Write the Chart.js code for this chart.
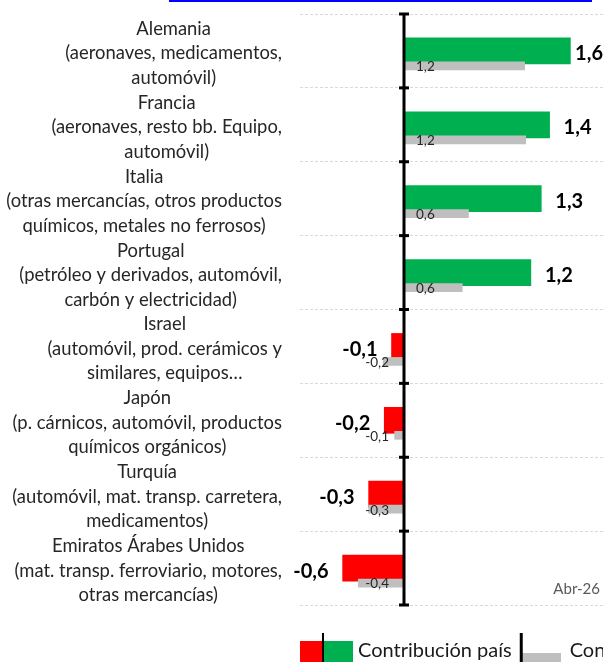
<!DOCTYPE html>
<html><head><meta charset="utf-8">
<script src="https://cdn.jsdelivr.net/npm/chart.js@4.4.1/dist/chart.umd.min.js"></script>
<style>
html,body{margin:0;padding:0;background:#fff;overflow:hidden;width:603px;height:662px;}
#wrap{position:absolute;left:0;top:0;width:900px;height:671px;}
#link{position:absolute;left:169px;top:0;width:423px;height:2px;background:#0000ff;z-index:2}
</style></head><body>
<div id="link"></div>
<div id="wrap"><canvas id="c" width="900" height="671"></canvas></div>
<script>
// ---- data ----
const categories = [
  ['Alemania', '(aeronaves, medicamentos,', 'automóvil)'],
  ['Francia', '(aeronaves, resto bb. Equipo,', 'automóvil)'],
  ['Italia', '(otras mercancías, otros productos', 'químicos, metales no ferrosos)'],
  ['Portugal', '(petróleo y derivados, automóvil,', 'carbón y electricidad)'],
  ['Israel', '(automóvil, prod. cerámicos y', 'similares, equipos…'],
  ['Japón', '(p. cárnicos, automóvil, productos', 'químicos orgánicos)'],
  ['Turquía', '(automóvil, mat. transp. carretera,', 'medicamentos)'],
  ['Emiratos Árabes Unidos', '(mat. transp. ferroviario, motores,', 'otras mercancías)']
];
const contribPais = [1.6, 1.4, 1.32, 1.22, -0.12, -0.19, -0.34, -0.59];
const contribRef  = [1.16, 1.17, 0.62, 0.56, -0.2, -0.09, -0.34, -0.44];
const seriesNames = ['Contribución país', 'Contribución media'];
const xMin = -1, xMax = 2;
const periodLabel = 'Abr-26';

// ---- styles ----
const GREEN = '#00B050', RED = '#FF0000', GREY = '#BFBFBF';
const GREY_SHIFT = 15;
const fmt = v => v.toFixed(1).replace('.', ',');

function makeIcon1() {
  const c = document.createElement('canvas'); c.width = 76; c.height = 38;
  const g = c.getContext('2d');
  g.fillStyle = RED; g.fillRect(0, 9, 32, 24);
  g.fillStyle = GREEN; g.fillRect(34, 9, 29, 24);
  g.fillStyle = '#000'; g.fillRect(32, 0, 2, 38);
  return c;
}
function makeIcon2() {
  const c = document.createElement('canvas'); c.width = 42; c.height = 38;
  const g = c.getContext('2d');
  g.fillStyle = GREY; g.fillRect(4, 21, 38, 9);
  g.fillStyle = '#000'; g.fillRect(1, 0, 3, 38);
  return c;
}
const legendIcons = [makeIcon1(), makeIcon2()];

const shiftPlugin = {
  id: 'shiftRef',
  beforeDatasetDraw(chart, args) { if (args.index === 1) { chart.ctx.save(); chart.ctx.translate(0, GREY_SHIFT); } },
  afterDatasetDraw(chart, args) { if (args.index === 1) chart.ctx.restore(); }
};

const decoPlugin = {
  id: 'deco',
  afterDatasetsDraw(chart) {
    const {ctx, chartArea, scales} = chart;
    const x0 = scales.x.getPixelForValue(0);
    ctx.save();
    // zero axis
    ctx.fillStyle = '#000';
    ctx.fillRect(x0 - 1.5, chartArea.top, 3, chartArea.bottom - chartArea.top);
    for (let i = 0; i <= categories.length; i++) {
      const y = scales.y.getPixelForValue(i - 0.5);
      ctx.fillRect(x0 - 5, y - 1.5, 10, 3);
    }
    // value labels
    const m0 = chart.getDatasetMeta(0), m1 = chart.getDatasetMeta(1);
    ctx.textBaseline = 'middle';
    ctx.font = 'bold 20px Lato';
    ctx.fillStyle = '#000';
    m0.data.forEach((el, i) => {
      const v = contribPais[i], t = fmt(v);
      const w = ctx.measureText(t).width;
      if (v >= 0) {
        ctx.textAlign = 'left';
        ctx.fillText(t, Math.min(el.x + 14, chartArea.right - 9 - w), el.y + 3);
      } else {
        ctx.textAlign = 'right';
        ctx.fillText(t, el.x - 14, el.y + 3);
      }
    });
    ctx.font = '13.5px Lato';
    ctx.fillStyle = '#262626';
    m1.data.forEach((el, i) => {
      const v = contribRef[i], t = fmt(v);
      const y = el.y + GREY_SHIFT + 1;
      if (v >= 0) { ctx.textAlign = 'left'; ctx.fillText(t, x0 + 12, y); }
      else { ctx.textAlign = 'right'; ctx.fillText(t, x0 - 15, y); }
    });
    // period label
    ctx.font = '15px Lato';
    ctx.fillStyle = '#595959';
    ctx.textAlign = 'right';
    ctx.fillText(periodLabel, chartArea.right - 12, chartArea.bottom - 16);
    ctx.restore();
  },
  afterDraw(chart) {
    const {ctx, chartArea, scales} = chart;
    ctx.save();
    ctx.font = '18.4px Lato';
    ctx.fillStyle = '#262626';
    ctx.textAlign = 'center';
    ctx.textBaseline = 'middle';
    const labels = chart.data.labels;
    labels.forEach((lines, i) => {
      const yc = scales.y.getPixelForValue(i) + 2.5;
      const maxW = Math.max(...lines.map(l => ctx.measureText(l).width));
      const cx = chartArea.left - 18 - maxW / 2;
      lines.forEach((l, k) => ctx.fillText(l, cx, yc + (k - (lines.length - 1) / 2) * 24.5));
    });
    ctx.restore();
  }
};

new Chart(document.getElementById('c'), {
  type: 'bar',
  data: {
    labels: categories,
    datasets: [
      { label: seriesNames[0], data: contribPais, backgroundColor: contribPais.map(v => v >= 0 ? GREEN : RED),
        barThickness: 26, grouped: false, order: 2 },
      { label: seriesNames[1], data: contribRef, backgroundColor: GREY,
        barThickness: 8, grouped: false, order: 1 }
    ]
  },
  options: {
    indexAxis: 'y',
    responsive: false,
    animation: false,
    layout: { padding: { left: 300, top: 14, right: 0, bottom: 0 } },
    scales: {
      x: { type: 'linear', min: xMin, max: xMax, display: true,
           grid: { display: false }, border: { display: false }, ticks: { display: false },
           afterFit(s) { s.height = 28; } },
      y: { type: 'category', position: 'left', offset: true,
           grid: { color: '#D9D9D9', lineWidth: 1, drawTicks: false, offset: true },
           border: { display: false, dash: [3, 2] },
           ticks: { display: false },
           afterFit(s) { s.width = 0; } },
      yR: { type: 'linear', position: 'right', axis: 'y', display: true,
            grid: { display: false }, border: { display: false }, ticks: { display: false },
            afterFit(s) { s.width = 900 - 612; } }
    },
    plugins: {
      tooltip: { enabled: false },
      legend: {
        position: 'bottom', align: 'start',
        labels: {
          usePointStyle: true, pointStyleWidth: 40, padding: 8, color: '#1a1a1a',
          font: { family: 'Lato', size: 20 },
          generateLabels(chart) {
            return chart.data.datasets.map((ds, i) => ({
              text: ds.label, pointStyle: legendIcons[i], fillStyle: 'rgba(0,0,0,0)',
              strokeStyle: 'rgba(0,0,0,0)', lineWidth: 0, hidden: false, datasetIndex: i, fontColor: '#1a1a1a'
            }));
          }
        }
      }
    }
  },
  plugins: [shiftPlugin, decoPlugin]
});
</script>
</body></html>
